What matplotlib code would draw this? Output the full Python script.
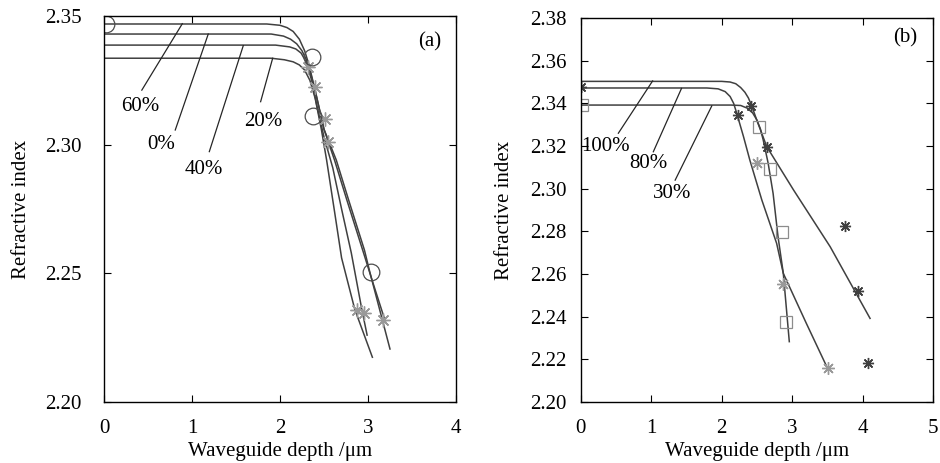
import numpy as np
import matplotlib
matplotlib.use("Agg")
import matplotlib.pyplot as plt
from matplotlib import rcParams

rcParams['font.family'] = ['Liberation Serif', 'DejaVu Serif']
rcParams['mathtext.fontset'] = 'stix'
rcParams['font.size'] = 15

# ---- panel (a) : fitted profiles ----
a_labels = ['20%', '40%', '0%', '60%']
a_x = [
    [0, 1.9, 2.05, 2.15, 2.22, 2.28, 2.34, 2.40, 2.47, 2.53, 2.62, 2.70, 2.85, 3.05],
    [0, 1.95, 2.11, 2.18, 2.24, 2.30, 2.36, 2.42, 2.50, 2.60, 2.70, 2.81, 2.93, 2.99],
    [0, 1.9, 2.04, 2.12, 2.19, 2.25, 2.30, 2.35, 2.40, 2.50, 2.62, 2.76, 2.94, 3.05, 3.2],
    [0, 1.85, 2.0, 2.08, 2.15, 2.22, 2.28, 2.33, 2.40, 2.50, 2.64, 2.78, 2.96, 3.02, 3.25],
]
a_y = [
    [2.3336, 2.3336, 2.3330, 2.3322, 2.331, 2.329, 2.325, 2.318, 2.306, 2.294, 2.274, 2.256, 2.236, 2.2174],
    [2.3387, 2.3387, 2.338, 2.3372, 2.3356, 2.332, 2.325, 2.315, 2.303, 2.291, 2.275, 2.258, 2.236, 2.226],
    [2.343, 2.343, 2.3422, 2.341, 2.3392, 2.3365, 2.333, 2.3275, 2.321, 2.306, 2.294, 2.2785, 2.259, 2.247, 2.231],
    [2.3469, 2.3469, 2.3464, 2.3455, 2.344, 2.341, 2.3365, 2.331, 2.321, 2.306, 2.294, 2.2785, 2.259, 2.2506, 2.2206],
]
# measured points
a_circ_x = [0.02, 2.36, 2.38, 3.03]
a_circ_y = [2.347, 2.334, 2.311, 2.2505]
a_star_x = [2.32, 2.40, 2.51, 2.55, 2.87, 2.95, 3.17]
a_star_y = [2.330, 2.3225, 2.310, 2.301, 2.2357, 2.2345, 2.232]
# label text position, leader start, leader end
a_ann = [
    ('60%', (0.41, 2.3147), (0.43, 2.3212), (0.89, 2.347)),
    ('0%', (0.655, 2.2999), (0.81, 2.3057), (1.185, 2.343)),
    ('40%', (1.136, 2.2904), (1.197, 2.2973), (1.583, 2.3385)),
    ('20%', (1.81, 2.3089), (1.78, 2.3167), (1.917, 2.3336)),
]

# ---- panel (b) ----
b_labels = ['100%', '80%', '30%']
b_x = [
    [0, 2.0, 2.12, 2.2, 2.27, 2.33, 2.38, 2.43, 2.50, 2.64, 3.02, 3.54, 4.106],
    [0, 1.79, 1.95, 2.05, 2.12, 2.17, 2.21, 2.31, 2.40, 2.57, 2.78, 2.875, 3.2, 3.514],
    [0, 2.13, 2.27, 2.36, 2.44, 2.50, 2.55, 2.59, 2.66, 2.73, 2.80, 2.875, 2.96],
]
b_y = [
    [2.3503, 2.3503, 2.3500, 2.3492, 2.3474, 2.3452, 2.3425, 2.3385, 2.332, 2.3197, 2.2994, 2.2728, 2.2392],
    [2.3472, 2.3472, 2.3468, 2.3455, 2.3432, 2.3400, 2.3358, 2.3244, 2.3134, 2.2947, 2.2744, 2.2603, 2.237, 2.215],
    [2.3392, 2.3392, 2.3390, 2.3378, 2.3355, 2.3322, 2.328, 2.3228, 2.3119, 2.2978, 2.2775, 2.2603, 2.2283],
]
b_dstar_x = [0.0, 2.417, 2.23, 2.64, 3.75, 3.93, 4.07]
b_dstar_y = [2.3475, 2.3388, 2.3345, 2.3197, 2.2825, 2.252, 2.2181]
b_lstar_x = [2.50, 2.875, 3.505]
b_lstar_y = [2.3119, 2.2553, 2.2161]
b_sq_x = [0.014, 2.535, 2.68, 2.86, 2.92]
b_sq_y = [2.3392, 2.3288, 2.3092, 2.2795, 2.2377]
b_ann = [
    ('100%', (0.345, 2.3197), (0.534, 2.326), (1.02, 2.3505)),
    ('80%', (0.96, 2.3119), (1.03, 2.3173), (1.43, 2.347)),
    ('30%', (1.29, 2.2978), (1.34, 2.304), (1.86, 2.3388)),
]

line_c = '0.25'
star = (8, 2, 0)

fig = plt.figure(figsize=(9.4, 4.63), dpi=100)
ax1 = fig.add_axes([0.1106, 0.1317, 0.3745, 0.8337])
ax2 = fig.add_axes([0.6178, 0.1317, 0.3748, 0.8294])

for xs, ys in zip(a_x, a_y):
    ax1.plot(xs, ys, color=line_c, lw=1.1)
ax1.plot(a_star_x, a_star_y, ls='none', marker=star, ms=10, mec='0.6', mew=1)
ax1.plot(a_circ_x, a_circ_y, ls='none', marker='o', ms=12, mfc='none', mec='0.3', mew=0.9)
for txt, tpos, p0, p1 in a_ann:
    ax1.plot([p0[0], p1[0]], [p0[1], p1[1]], color='0.15', lw=0.9)
    ax1.text(tpos[0], tpos[1], txt, ha='center', va='center')
ax1.text(3.7, 2.340, '(a)', ha='center', va='center')

ax1.set_xlim(0, 4)
ax1.set_ylim(2.20, 2.35)
ax1.set_xticks([0, 1, 2, 3, 4])
ax1.set_yticks([2.20, 2.25, 2.30, 2.35])
ax1.set_yticklabels(['2.20', '2.25', '2.30', '2.35'])

for xs, ys in zip(b_x, b_y):
    ax2.plot(xs, ys, color=line_c, lw=1.1)
ax2.plot(b_lstar_x, b_lstar_y, ls='none', marker=star, ms=9, mec='0.6', mew=1)
ax2.plot(b_dstar_x, b_dstar_y, ls='none', marker=star, ms=8, mec='0.25', mew=1)
ax2.plot(b_sq_x, b_sq_y, ls='none', marker='s', ms=8, mfc='none', mec='0.55', mew=0.9)
for txt, tpos, p0, p1 in b_ann:
    ax2.plot([p0[0], p1[0]], [p0[1], p1[1]], color='0.15', lw=0.9)
    ax2.text(tpos[0], tpos[1], txt, ha='center', va='center')
ax2.text(4.6, 2.3705, '(b)', ha='center', va='center')

ax2.set_xlim(0, 5)
ax2.set_ylim(2.20, 2.38)
ax2.set_xticks([0, 1, 2, 3, 4, 5])
ax2.set_yticks(np.arange(2.20, 2.381, 0.02))
ax2.set_yticklabels(['%.2f' % v for v in np.arange(2.20, 2.381, 0.02)])

for ax, ypad, ylp in ((ax1, 16, 10), (ax2, 10, 12)):
    ax.tick_params(direction='in', top=True, right=True, length=5, width=0.8)
    ax.tick_params(axis='x', pad=12)
    ax.tick_params(axis='y', pad=ypad)
    for s in ax.spines.values():
        s.set_linewidth(1.0)
    ax.set_xlabel('Waveguide depth /μm', labelpad=3)
    ax.set_ylabel('Refractive index', labelpad=ylp)

fig.savefig('out.png', dpi=100)
